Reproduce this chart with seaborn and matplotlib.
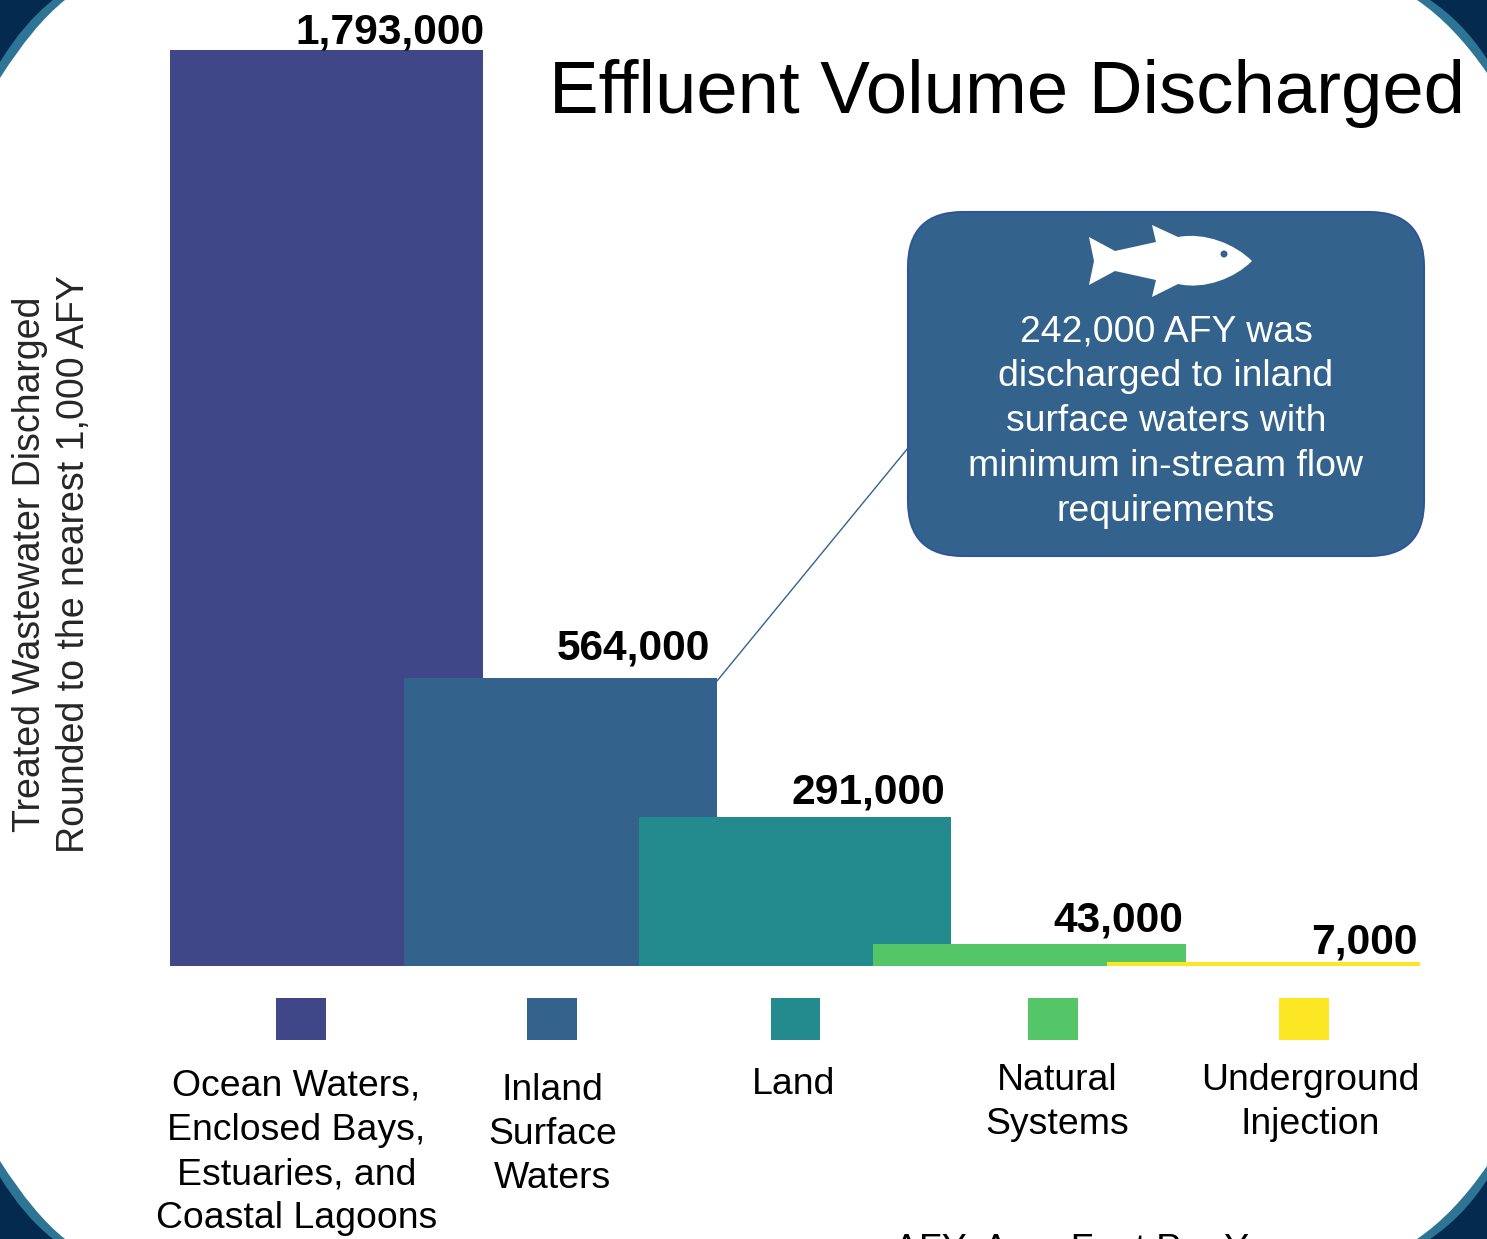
# Effluent volume discharged by disposal type
import pandas as pd
import matplotlib.pyplot as plt
import seaborn as sns
from matplotlib.patches import Circle, FancyBboxPatch, PathPatch, Rectangle
from matplotlib.path import Path

sns.set_style("white")
plt.rcParams["font.family"] = ["Liberation Sans", "DejaVu Sans"]

# DATA
categories = ["Ocean Waters,\nEnclosed Bays,\nEstuaries, and\nCoastal Lagoons",
              "Inland\nSurface\nWaters",
              "Land",
              "Natural\nSystems",
              "Underground\nInjection"]
volumes = [1793000, 564000, 291000, 43000, 7000]
colors = ["#404788", "#33638D", "#238A8D", "#55C667", "#FDE725"]
callout_lines = ["242,000 AFY was", "discharged to inland", "surface waters with",
                 "minimum in-stream flow", "requirements"]

df = pd.DataFrame({"category": categories, "volume": volumes})

W, H = 1487, 1239
NAVY, TEAL = "#042B4F", "#2E7595"
fig = plt.figure(figsize=(W / 100, H / 100), dpi=100, facecolor="white")

# bars, overlapping because they are wider than their step
ax = fig.add_axes([170 / W, 1 - 966 / H, 1250 / W, 916 / H])
sns.barplot(data=df, x="category", y="volume", hue="category", palette=colors,
            width=1.336, dodge=False, saturation=1, legend=False, linewidth=0, ax=ax)
ax.set_xlim(-0.668, 4.668)
ax.set_ylim(0, max(volumes))
ax.axis("off")

# everything else goes on an overlay in pixel coordinates
over = fig.add_axes([0, 0, 1, 1], facecolor="none")
over.set_xlim(0, W)
over.set_ylim(H, 0)
over.axis("off")


# A) Corners of the slide background
def corner(flip_x, flip_y, a, b, c, color):
    pts = [(0, 0), (a, 0), c, (0, b), (0, 0)]
    pts = [(W - x if flip_x else x, H - y if flip_y else y) for x, y in pts]
    codes = [Path.MOVETO, Path.LINETO, Path.CURVE3, Path.CURVE3, Path.CLOSEPOLY]
    over.add_patch(PathPatch(Path(pts, codes), fc=color, ec="none", zorder=1))


for fy in (False, True):
    corner(False, fy, 65, 78, (33.5, 25), TEAL)
    corner(False, fy, 53, 62, (23.5, 23), NAVY)
    corner(True, fy, 70, 73, (33, 25), TEAL)
    corner(True, fy, 57, 59, (24, 22), NAVY)

# B) Title
over.text(549, 93, "Effluent Volume Discharged", fontsize=53.6, color="black",
          ha="left", va="center")

# C) Value labels
label_pos = [(485, 32), (710, 649), (945, 792), (1183, 921), (1418, 942)]
for (lx, ly), v in zip(label_pos, volumes):
    over.text(lx, ly, f"{v:,}", fontsize=30.6, fontweight="bold", color="black",
              ha="right", va="center")

# D) Axis title
over.text(30, 564, "Treated Wastewater Discharged", fontsize=27, rotation=90,
          ha="center", va="center")
over.text(74, 564, "Rounded to the nearest 1,000 AFY", fontsize=27, rotation=90,
          ha="center", va="center")

# E) Callout with connector and fish
over.plot([717, 908], [681, 448], color=colors[1], lw=1, zorder=2)
over.add_patch(FancyBboxPatch((963, 267), 406, 234,
                              boxstyle="round,pad=55,rounding_size=55",
                              fc=colors[1], ec="#2F5597", lw=1.5, zorder=3))
fish = [(1089, 237), (1094, 261), (1089, 285), (1115, 271), (1156, 280), (1152, 297),
        (1178, 284), (1205, 290), (1235, 278), (1252, 261), (1235, 244), (1205, 232),
        (1178, 237), (1152, 225), (1156, 242), (1115, 251), (1089, 237)]
fish_codes = [Path.MOVETO] + [Path.LINETO] * 6 + [Path.CURVE4] * 6 + [Path.LINETO] * 4
over.add_patch(PathPatch(Path(fish, fish_codes), fc="white", ec="none", zorder=4))
over.add_patch(Circle((1224, 254), 3.5, fc=colors[1], ec="none", zorder=5))
for i, line in enumerate(callout_lines):
    over.text(1166, 332 + i * 44.8, line, fontsize=26.9, color="white",
              ha="center", va="center", zorder=5)

# F) Legend squares and their labels
squares = [276, 527, 771, 1028, 1279]
square_w = [50, 50, 49, 50, 50]
text_x = [296.5, 552.5, 793.5, 1057.5, 1310]
text_top = [1069, 1073, 1067, 1063, 1063]
for i, name in enumerate(categories):
    over.add_patch(Rectangle((squares[i], 998), square_w[i], 42, fc=colors[i], ec="none"))
    over.text(text_x[i], text_top[i], name, fontsize=26.9, color="black", ha="center",
              va="top", multialignment="center", linespacing=1.337)

# G) Footnote, cut off by the slide edge
over.text(894, 1233, "AFY: Acre Foot Per Year", fontsize=26.9, color="black",
          ha="left", va="top", clip_on=False)

fig.savefig("out.png", dpi=100)
